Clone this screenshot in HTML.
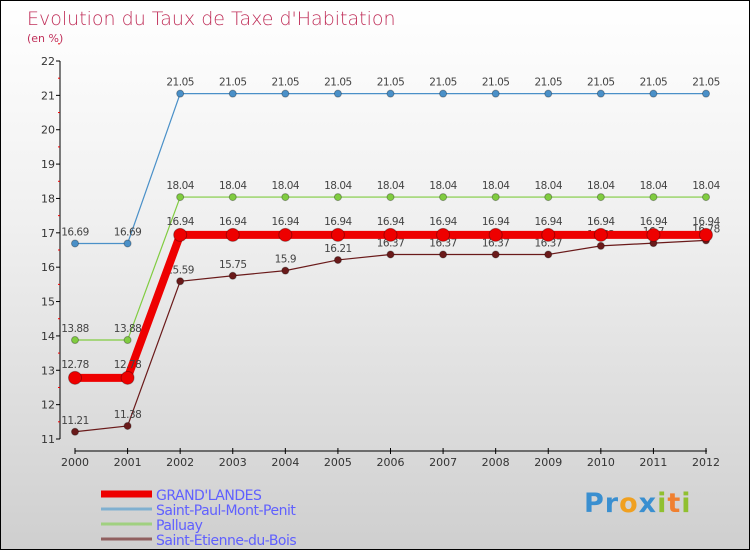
<!DOCTYPE html>
<html><head><meta charset="utf-8"><style>
body{margin:0}
#c{width:748px;height:548px;border:1px solid #000;background:linear-gradient(#fff,#f0f0f0 40%,#cfcfcf);position:relative;overflow:hidden;font-family:"DejaVu Sans","Liberation Sans",sans-serif}
text{font-family:"DejaVu Sans","Liberation Sans",sans-serif}
</style></head><body>
<div id="c">
<svg id="s" width="748" height="548">
<text x="26" y="24" font-size="19" fill="#c0305a" style="font-weight:200">Evolution du Taux de Taxe d'Habitation</text>
<text x="26" y="41" font-size="11" fill="#c0305a">(en %)</text>
</svg>
<div style="position:absolute;left:583px;top:487px;font:bold 27px 'DejaVu Sans',sans-serif;letter-spacing:1px"><span style="color:#3a8fd0">Pr</span><span style="color:#f0a020">o</span><span style="color:#3a8fd0">x</span><span style="color:#90c030">i</span><span style="color:#f08030">t</span><span style="color:#90c030">i</span></div>
</div>
<script>
const years=[2000,2001,2002,2003,2004,2005,2006,2007,2008,2009,2010,2011,2012];
const yTicks=[11,12,13,14,15,16,17,18,19,20,21,22];
const grand=[12.78,12.78,16.94,16.94,16.94,16.94,16.94,16.94,16.94,16.94,16.94,16.94,16.94];
const stpaul=[16.69,16.69,21.05,21.05,21.05,21.05,21.05,21.05,21.05,21.05,21.05,21.05,21.05];
const palluay=[13.88,13.88,18.04,18.04,18.04,18.04,18.04,18.04,18.04,18.04,18.04,18.04,18.04];
const stetienne=[11.21,11.38,15.59,15.75,15.9,16.21,16.37,16.37,16.37,16.37,16.62,16.7,16.78];
const names=["GRAND'LANDES","Saint-Paul-Mont-Penit","Palluay","Saint-Etienne-du-Bois"];
const s=document.getElementById('s');const NS='http://www.w3.org/2000/svg';
function X(i){return 74+i*(631/(years.length-1));}
function Y(v){return 438-(v-11)*(378/11);}
function el(t,a,p){const e=document.createElementNS(NS,t);for(const k in a)e.setAttribute(k,a[k]);(p||s).appendChild(e);return e;}
let ax=el('line',{x1:59,y1:Y(22),x2:59,y2:Y(11),stroke:'#000'});


yTicks.forEach(v=>{el('line',{x1:55,x2:59,y1:Y(v),y2:Y(v),stroke:'#000'});
el('line',{x1:57,x2:59,y1:Y(v+0.5),y2:Y(v+0.5),stroke:'#e00'});
let t=el('text',{x:54,y:Y(v)+4,'font-size':11,'text-anchor':'end',fill:'#333'});t.textContent=v;

});
let xa=el('line',{x1:74,y1:450,x2:706,y2:450,stroke:'#000'});


years.forEach((y,i)=>{el('line',{x1:X(i),x2:X(i),y1:447,y2:453,stroke:'#000'});
let t=el('text',{x:X(i),y:465,'font-size':11,'text-anchor':'middle',fill:'#333'});t.textContent=y;

});
function series(d,col,w,r,nm,dy){
 let g=el('g',{});
 
 
 el('polyline',{points:d.map((v,i)=>X(i)+','+Y(v)).join(' '),fill:'none',stroke:col,'stroke-width':w},g);
 d.forEach((v,i)=>{el('circle',{cx:X(i),cy:Y(v),r:r,fill:col,stroke:'rgba(0,0,0,0.3)'},g);
 let t=el('text',{x:X(i),y:Y(v)-dy,'font-size':10.5,'text-anchor':'middle',fill:'#444','letter-spacing':'-0.5'},g);t.textContent=v;});
}
series(stpaul,'#4a90c8',1.2,3.5,'series-saint-paul',8);
series(palluay,'#80cc40',1.2,3.5,'series-palluay',8);
series(stetienne,'#6a1a1a',1.2,3.5,'series-saint-etienne',8);
series(grand,'#ee0000',8,6.5,'series-grand-landes',10);
const cols=['#ee0000','#80b0d0','#a0d080','#906060'];const ws=[7,3,3,3];
names.forEach((n,i)=>{let y=493+i*15;
 el('line',{x1:100,x2:151,y1:y,y2:y,stroke:cols[i],'stroke-width':ws[i]});
 let t=el('text',{x:155,y:y+6,'font-size':14,fill:'#6060ff','letter-spacing':'-0.5'});t.textContent=n;
 
 });
</script>
</body></html>
